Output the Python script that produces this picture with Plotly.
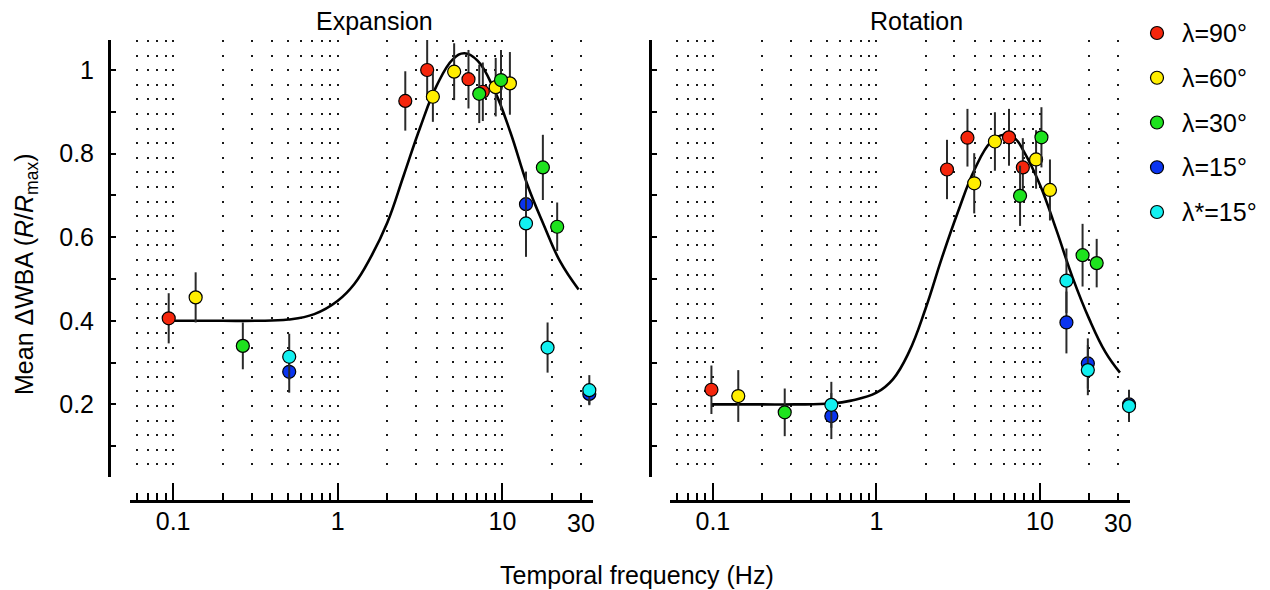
import numpy as np
import plotly.graph_objects as go

# ---- values ----
series_names = ["λ=90°", "λ=60°", "λ=30°", "λ=15°", "λ*=15°"]
series_colors = ["#f5260c", "#ffee00", "#1ee21e", "#0a34f0", "#12f0f0"]

# Expansion panel: frequency (Hz), mean response, error (half-length)
exp_f_90 = [0.094, 2.57, 3.49, 6.22, 7.6]
exp_y_90 = [0.406, 0.926, 1.0, 0.978, 0.948]
exp_e_90 = [0.06, 0.071, 0.072, 0.07, 0.07]
exp_f_60 = [0.137, 3.78, 5.09, 9.1, 11.1]
exp_y_60 = [0.456, 0.936, 0.996, 0.959, 0.968]
exp_e_60 = [0.06, 0.06, 0.068, 0.07, 0.075]
exp_f_30 = [0.265, 7.23, 9.8, 17.6, 21.5]
exp_y_30 = [0.340, 0.943, 0.976, 0.767, 0.625]
exp_e_30 = [0.056, 0.07, 0.072, 0.078, 0.058]
exp_f_15 = [0.507, 13.9, 33.7]
exp_y_15 = [0.278, 0.679, 0.225]
exp_e_15 = [0.05, 0.078, 0.025]
exp_f_15s = [0.507, 13.9, 18.8, 33.7]
exp_y_15s = [0.314, 0.633, 0.336, 0.234]
exp_e_15s = [0.055, 0.08, 0.06, 0.036]

# Rotation panel
rot_f_90 = [0.098, 2.70, 3.60, 6.46, 7.85]
rot_y_90 = [0.235, 0.762, 0.838, 0.839, 0.767]
rot_e_90 = [0.058, 0.071, 0.069, 0.068, 0.07]
rot_f_60 = [0.143, 3.96, 5.30, 9.46, 11.5]
rot_y_60 = [0.22, 0.729, 0.829, 0.786, 0.713]
rot_e_60 = [0.062, 0.072, 0.07, 0.07, 0.073]
rot_f_30 = [0.275, 7.55, 10.2, 18.2, 22.2]
rot_y_30 = [0.181, 0.699, 0.839, 0.557, 0.538]
rot_e_30 = [0.057, 0.072, 0.072, 0.075, 0.058]
rot_f_15 = [0.53, 14.5, 19.6, 35.0]
rot_y_15 = [0.172, 0.396, 0.298, 0.2]
rot_e_15 = [0.055, 0.074, 0.06, 0.035]
rot_f_15s = [0.53, 14.5, 19.6, 35.0]
rot_y_15s = [0.199, 0.496, 0.282, 0.196]
rot_e_15s = [0.055, 0.077, 0.06, 0.038]

# fitted curves
exp_fit_f = [0.094, 0.2, 0.316, 0.5, 0.72, 1.0, 1.26, 1.58, 2.0, 2.51, 3.16,
             3.98, 5.01, 5.87, 7.08, 8.9, 11.2, 14.1, 17.8, 22.4, 29.0]
exp_fit_y = [0.400, 0.400, 0.400, 0.403, 0.416, 0.448, 0.488, 0.551, 0.635, 0.747, 0.862,
             0.962, 1.026, 1.040, 1.022, 0.953, 0.850, 0.728, 0.63, 0.542, 0.475]
rot_fit_f = [0.098, 0.2, 0.316, 0.53, 0.7, 1.0, 1.26, 1.58, 2.0, 2.51, 3.16,
             3.98, 5.01, 6.0, 7.08, 7.94, 10.0, 12.6, 15.8, 20.0, 25.1, 30.8]
rot_fit_y = [0.200, 0.200, 0.200, 0.202, 0.209, 0.228, 0.26, 0.325, 0.43, 0.55, 0.662,
             0.762, 0.828, 0.845, 0.835, 0.806, 0.725, 0.617, 0.504, 0.404, 0.325, 0.276]

panel_titles = ["Expansion", "Rotation"]
x_title = "Temporal frequency (Hz)"
y_title = "Mean ΔWBA (<i>R</i>/<i>R</i><sub>max</sub>)"
x_tick_vals = [0.1, 1, 10]
x_tick_text = ["0.1", "1", "10"]
x_extra_label = 30
y_tick_vals = [0.2, 0.4, 0.6, 0.8, 1.0]
y_tick_text = ["0.2", "0.4", "0.6", "0.8", "1"]

# ---- layout helpers (page pixel -> paper); page body adds an 8px margin ----
W, H = 1270, 590
OFF = 8
def fx(p): return (p - OFF) / W
def fy(p): return 1 - (p - OFF) / H

FONT = "Liberation Sans, Arial, Helvetica, sans-serif"
FS = 25
LOG_RANGE = [-1.262, 1.55]
Y_RANGE = [0.0263, 1.0718]
GRID = dict(showgrid=True, gridcolor="#1a1a1a", gridwidth=2, griddash="2px,12.6px")

fig = go.Figure()

panels = [
    ("x", "y", exp_fit_f, exp_fit_y,
     [(exp_f_90, exp_y_90, exp_e_90), (exp_f_60, exp_y_60, exp_e_60), (exp_f_30, exp_y_30, exp_e_30),
      (exp_f_15, exp_y_15, exp_e_15), (exp_f_15s, exp_y_15s, exp_e_15s)]),
    ("x2", "y2", rot_fit_f, rot_fit_y,
     [(rot_f_90, rot_y_90, rot_e_90), (rot_f_60, rot_y_60, rot_e_60), (rot_f_30, rot_y_30, rot_e_30),
      (rot_f_15, rot_y_15, rot_e_15), (rot_f_15s, rot_y_15s, rot_e_15s)]),
]
for xa, ya, ff, fyv, pts in panels:
    fig.add_trace(go.Scatter(
        x=ff, y=fyv, mode="lines", xaxis=xa, yaxis=ya, showlegend=False, hoverinfo="skip",
        line=dict(color="black", width=2.6, shape="spline", smoothing=1.2)))
    for (f, y, e), col, name in zip(pts, series_colors, series_names):
        fig.add_trace(go.Scatter(
            x=f, y=y, mode="markers", name=name, xaxis=xa, yaxis=ya, showlegend=False,
            cliponaxis=False,
            marker=dict(size=13, color=col, line=dict(color="black", width=1.2)),
            error_y=dict(type="data", array=e, color="#2a2a2a", thickness=2, width=0)))

# legend drawn on its own hidden axes: x in px relative to the marker column,
# y in item index (first item at page y=33, 44.75 px per item)
leg_x0, leg_step, leg_top = 1157, (212 - 33) / 4, 33
legend_idx = list(range(len(series_names)))
fig.add_trace(go.Scatter(
    x=[0] * len(series_names), y=legend_idx, mode="markers", xaxis="x3", yaxis="y3",
    showlegend=False, hoverinfo="skip", cliponaxis=False,
    marker=dict(size=13, color=series_colors, line=dict(color="black", width=1.2))))

def xaxis_cfg(x0, x1):
    return dict(type="log", range=LOG_RANGE, domain=[fx(x0), fx(x1)], anchor="free", position=fy(501),
                showline=True, linecolor="black", linewidth=2.5,
                tickmode="array", tickvals=x_tick_vals, ticktext=x_tick_text,
                ticks="inside", ticklen=17, tickwidth=2, tickcolor="black",
                tickfont=dict(size=FS, color="black", family=FONT), ticklabelstandoff=-3,
                minor=dict(ticks="inside", ticklen=7, tickwidth=2, tickcolor="black", dtick="D1", **GRID),
                zeroline=False, fixedrange=True, **GRID)

def yaxis_cfg(xpos, labels):
    return dict(range=Y_RANGE, domain=[fy(477), fy(40)], anchor="free", position=fx(xpos),
                showline=True, linecolor="black", linewidth=3,
                tickmode="array", tickvals=y_tick_vals, ticktext=y_tick_text, showticklabels=labels,
                ticks="inside", ticklen=5, tickwidth=2, tickcolor="black",
                tickfont=dict(size=FS, color="black", family=FONT), ticklabelstandoff=9,
                minor=dict(ticks="inside", ticklen=5, tickwidth=2, tickcolor="black", tick0=0, dtick=0.1),
                showgrid=False, zeroline=False, fixedrange=True)

def label(text, x, y, **kw):
    return dict(text=text, x=fx(x), y=fy(y), xref="paper", yref="paper", showarrow=False,
                xanchor="center", yanchor="middle", font=dict(size=FS, color="black", family=FONT), **kw)

annotations = [
    label(panel_titles[0], 374, 21),
    label(panel_titles[1], 916, 21),
    label(x_title, 637, 575),
    label(y_title, 26, 274, textangle=-90),
]
for xa in ["x", "x2"]:
    annotations.append(dict(text=str(x_extra_label), x=np.log10(x_extra_label), xref=xa,
                            y=fy(523), yref="paper", showarrow=False, xanchor="center", yanchor="middle",
                            font=dict(size=FS, color="black", family=FONT)))
for i, name in zip(legend_idx, series_names):
    annotations.append(dict(text=name, x=23, y=i, xref="x3", yref="y3", showarrow=False,
                            xanchor="left", yanchor="middle",
                            font=dict(size=FS, color="black", family=FONT)))

fig.update_layout(
    width=W, height=H, margin=dict(l=0, r=0, t=0, b=0),
    paper_bgcolor="white", plot_bgcolor="rgba(0,0,0,0)",
    font=dict(family=FONT, color="black"),
    xaxis=xaxis_cfg(130, 593), yaxis=yaxis_cfg(109, True),
    xaxis2=xaxis_cfg(670, 1130), yaxis2=yaxis_cfg(650, False),
    xaxis3=dict(domain=[fx(1142), 1], range=[1142 - leg_x0, OFF + W - leg_x0],
                visible=False, fixedrange=True, anchor="y3"),
    yaxis3=dict(domain=[0, 1], range=[(OFF + H - leg_top) / leg_step, (OFF - leg_top) / leg_step],
                visible=False, fixedrange=True, anchor="x3"),
    annotations=annotations,
    showlegend=False,
)

fig.write_html("out.html")
